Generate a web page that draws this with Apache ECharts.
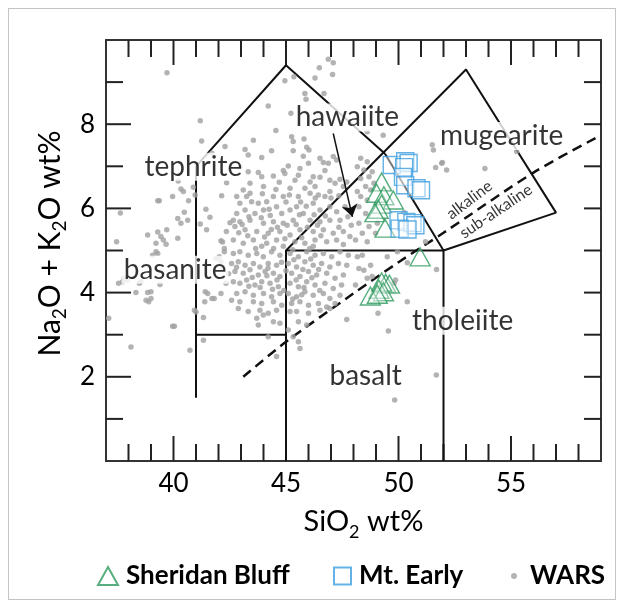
<!DOCTYPE html>
<html>
<head>
<meta charset="utf-8">
<script src="https://cdn.jsdelivr.net/npm/echarts@6.0.0/dist/echarts.min.js"></script>
<style>
  html, body { margin: 0; padding: 0; background: #fff; }
  #wrap { position: relative; width: 622px; height: 606px; }
  #chart { width: 622px; height: 606px; }
  #frame { position: absolute; left: 8px; top: 8px; width: 606px; height: 590px;
           border: 1.5px solid #c4c4c4; pointer-events: none; }
</style>
</head>
<body>
<div id="wrap"><div id="chart"></div><div id="frame"></div></div>
<script>
// tick labels and tick positions
const xMajorTicks = [40, 45, 50, 55];
const xMinorTicks = [38, 39, 41, 42, 43, 44, 46, 47, 48, 49, 51, 52, 53, 54, 56, 57, 58];
const yMajorTicks = [2, 4, 6, 8];
const yMinorTicks = [1, 3, 5, 7, 9];
const yRightTicks = [1, 2, 3, 4, 5, 6, 7, 8, 9];

// Sheridan Bluff samples (SiO2, Na2O+K2O)
const sheridanBluff = [
  [49.25, 6.63], [49.03, 6.36], [49.35, 6.3], [49.77, 6.2], [49.25, 6.1], [49.1, 5.98],
  [48.95, 5.9], [49.4, 5.53], [50.96, 4.85], [49.43, 4.22], [49.6, 4.2], [49.25, 4.25],
  [49.13, 4.08], [49.33, 4.02], [48.75, 3.92], [49.06, 3.96]
];

// Mt. Early samples
const mtEarly = [
  [49.7, 7.03], [50.3, 7.12], [50.45, 7.08], [50.25, 6.98], [50.2, 6.75], [50.3, 6.55],
  [50.8, 6.48], [51.0, 6.43], [50.0, 5.72], [50.35, 5.68], [50.62, 5.65], [50.75, 5.6],
  [50.05, 5.52], [50.4, 5.5]
];

// WARS compilation
const wars = [
  [39.71,9.22],[41.19,8.08],[41.25,7.6],[42.29,7.47],[41.71,7.31],[42.36,6.61],[40.21,6.65],[40.33,6.46],
  [40.44,6.4],[39.96,6.28],[40.88,6.5],[40.96,6.32],[42.14,6.3],[39.3,6.18],[39.37,6.18],[40.67,6.18],
  [37.64,5.89],[40.48,5.91],[41.44,5.98],[40.19,5.76],[40.63,5.72],[40.33,5.65],[41.62,5.79],[41.19,5.63],
  [41.47,5.49],[39.7,5.49],[39.3,5.44],[38.85,5.37],[39.44,5.33],[39.55,5.25],[39.22,5.17],[39.67,5.15],
  [40.19,5.29],[37.47,5.21],[42.11,5.23],[42.18,5.2],[42.26,5.05],[42.51,5.66],
  [39.07,4.89],[39.22,4.97],[39.3,4.93],[37.56,4.22],[37.74,4.26],[37.81,4.34],[37.96,4.3],[38.48,4.22],
  [38.55,4.26],[39.4,4.19],[38.33,4.0],[38.85,4.0],[39.0,4.02],[38.78,3.82],[38.9,3.78],[39.0,3.86],
  [37.12,3.39],[39.96,3.2],[40.04,3.2],[38.11,2.71],[40.73,2.63],[40.93,3.58],[41.0,3.54],[41.33,3.41],
  [41.33,2.87],[41.41,4.02],[41.39,3.78],[41.71,3.86],[41.81,3.86],[42.11,3.98],[41.52,3.98],[42.33,4.22],
  [42.04,4.85],[42.11,4.73],[42.26,4.97],[41.89,4.81],
  [46.88,9.54],[47.1,9.46],[46.48,9.34],[47.07,9.18],[46.29,9.1],[45.35,9.13],[44.95,9.03],[45.84,8.73],
  [46.69,8.73],[45.89,8.59],[44.21,8.43],[45.22,8.26],[44.55,7.85],[43.55,7.62],[45.25,7.7],[45.8,7.65],
  [45.32,7.59],[45.92,7.45],[46.02,7.39],[44.36,7.37],[43.18,7.4],[45.77,7.24],[45.32,7.37],[43.32,7.27],
  [43.92,7.21],[46.51,7.19],[46.66,7.09],[46.88,7.07],[47.1,7.23],[47.25,7.15],[46.0,7.07],[45.1,7.01],
  [44.88,6.9],[44.44,6.77],[44.95,6.83],[45.55,6.79],[45.62,6.95],[43.32,6.87],[42.95,6.99],[43.77,6.85],
  [43.92,6.75],[46.21,6.75],[46.51,6.74],[46.73,6.9],[46.07,6.63],[46.29,6.52],[46.95,6.67],[47.18,6.6],
  [47.4,6.69],[47.7,6.63],[47.55,6.52],[45.4,6.67],[45.18,6.48],[45.84,6.48],[44.88,6.28],[45.15,6.32],
  [45.55,6.28],[46.07,6.36],[46.44,6.32],[46.73,6.28],[46.95,6.4],[44.0,6.52],[43.4,6.6],[43.4,6.36],
  [43.1,6.44],[42.81,6.28],[43.25,6.28],[42.95,6.12],[43.47,6.16],[43.77,6.12],[44.14,6.16],[44.44,6.28],
  [42.81,5.88],[43.18,5.96],[43.62,5.88],[44.0,5.96],[44.58,6.04],[44.81,5.88],[45.18,5.96],[45.47,6.04],
  [45.77,5.88],[46.21,6.12],[46.51,5.96],[46.95,6.04],[47.25,5.92],[47.62,6.04],[47.4,5.72],[46.95,5.72],
  [46.51,5.68],[46.07,5.72],[45.32,5.72],[44.88,5.65],[44.44,5.68],[44.0,5.65],[43.4,5.72],[42.95,5.68],
  [42.66,5.72],[42.73,5.57],[43.18,5.49],[43.7,5.45],[44.21,5.41],[44.73,5.45],[45.18,5.37],[45.62,5.49],
  [46.21,5.45],[46.66,5.49],[47.1,5.41],[47.55,5.45],[47.84,5.33],[47.25,5.25],[46.81,5.21],[46.29,5.25],
  [45.84,5.17],[45.4,5.21],[44.58,5.25],[44.14,5.17],[43.55,5.25],[43.1,5.17],[42.66,5.25],[43.92,5.1],
  [44.88,5.1],[46.21,5.1],[47.55,5.14],
  [48.61,7.82],[49.32,7.74],[51.5,7.51],[51.55,7.39],[51.95,7.09],[51.65,6.97],[48.32,7.19],[48.61,7.11],
  [48.17,6.99],[48.46,6.91],[48.83,6.87],[48.69,6.75],[48.32,6.71],[48.91,6.6],[48.54,6.52],[48.17,6.4],
  [48.76,6.44],[48.32,6.28],[48.61,6.2],[48.24,6.04],[48.54,5.88],[48.24,5.65],[48.69,5.57],[49.06,5.65],
  [48.39,5.41],[48.98,5.41],[48.09,5.25],[48.61,5.21],[50.24,5.9],[51.2,5.21],
  [51.92,7.07],[52.14,6.91],[53.84,6.95],[55.25,7.35],
  [42.66,4.93],[42.95,4.97],[43.32,4.89],[43.7,4.93],[43.99,4.85],[44.36,4.97],[44.73,4.89],
  [42.58,4.69],[42.88,4.73],[43.18,4.65],[43.55,4.69],[43.84,4.61],[44.21,4.69],[44.58,4.65],
  [42.73,4.5],[43.1,4.46],[43.4,4.54],[43.77,4.42],[44.07,4.5],[44.44,4.46],[44.73,4.38],
  [42.66,4.26],[42.95,4.22],[43.25,4.3],[43.62,4.18],[43.92,4.26],[44.29,4.22],[44.66,4.14],
  [42.81,3.98],[43.18,4.02],[43.55,3.94],[44.0,3.98],[44.36,3.9],[44.73,3.98],
  [42.58,3.82],[42.95,3.78],[43.55,3.78],[43.92,3.74],[44.44,3.78],[44.81,3.7],
  [42.88,3.62],[43.32,3.55],[43.84,3.58],[44.21,3.51],[44.58,3.58],
  [43.7,3.39],[43.99,3.47],[44.44,3.31],[44.73,3.27],[43.77,3.23],[44.21,2.95],[44.58,2.48],
  [45.18,4.93],[45.55,4.85],[45.92,4.97],[46.29,4.89],[46.66,4.93],[47.03,4.85],[47.4,4.97],[47.77,4.89],
  [45.1,4.69],[45.47,4.61],[45.84,4.73],[46.21,4.65],[46.58,4.69],[46.95,4.61],[47.33,4.69],[47.7,4.65],
  [45.25,4.46],[45.62,4.38],[46.0,4.5],[46.36,4.42],[46.81,4.46],[47.18,4.34],[47.55,4.42],
  [45.18,4.22],[45.55,4.14],[45.92,4.26],[46.29,4.18],[46.73,4.22],[47.1,4.1],[47.47,4.18],
  [45.1,3.98],[45.47,3.9],[45.84,4.02],[46.21,3.94],[46.66,3.98],[46.95,3.86],[47.4,3.94],
  [45.25,3.74],[45.62,3.78],[46.0,3.7],[46.44,3.74],[46.81,3.66],[47.18,3.74],
  [45.18,3.55],[45.47,3.55],[46.0,3.51],[46.51,3.58],[46.95,3.62],
  [45.55,3.31],[45.92,3.23],[45.1,3.11],[45.32,2.95],[45.55,2.83],[45.62,2.67],[47.7,3.36],
  [48.39,4.89],[48.17,4.85],[48.76,4.65],[48.24,4.57],[48.46,4.53],[48.09,4.18],[48.61,4.34],[48.83,4.38],
  [49.5,4.85],[49.95,4.97],[49.8,4.22],[49.87,4.3],[50.39,4.71],[51.69,4.55],[50.39,3.78],[49.09,3.51],
  [49.55,3.09],[51.68,2.04],[49.83,1.45],
  [43.35,5.8],[43.9,5.78],[44.3,5.83],[44.62,5.55],[45.05,5.6],[45.45,5.62],[45.95,5.55],[46.4,5.6],
  [46.75,5.82],[44.05,5.32],[44.45,5.05],[44.95,5.28],[45.3,5.02],[45.7,5.3],[46.05,5.05],[46.55,5.35],
  [43.65,5.05],[43.3,5.35],[42.9,5.42],[44.8,4.72],[45.35,4.78],[45.75,4.55],[46.1,4.8],[46.45,4.55],
  [44.2,4.58],[44.6,4.3],[45.0,4.52],[45.45,4.3],[45.8,4.12],[46.15,4.35],[43.5,4.36],[43.85,4.12],
  [44.15,4.4],[44.9,4.05],[45.3,3.85],[45.7,3.95],[46.5,4.05],[44.4,4.08],[43.35,4.15],[42.8,4.6],
  [44.55,6.45],[45.0,6.15],[45.65,6.15],[46.3,6.25],[44.25,5.98],[45.6,5.85],[46.25,5.85],[43.95,6.35],
  [44.7,6.62],[45.9,6.05],[47.35,6.3],[47.0,6.25],[47.75,5.8],[47.35,5.55],[47.9,5.6],[42.45,4.45],
  [42.35,5.45],[42.2,4.6],[43.05,5.62],[44.35,5.5]
];

// TAS field boundaries
const fieldBoundaries = [
  [[41, 1.5], [41, 7]],
  [[41, 3], [45, 3]],
  [[41, 7], [45, 9.4], [49.4, 7.3]],
  [[45, 0], [45, 5], [52, 5], [52, 0]],
  [[45, 5], [53, 9.3], [57, 5.9], [52, 5]],
  [[49.4, 7.3], [52, 5]]
];
// alkaline / sub-alkaline divide
const alkalineDivide = [[43.1, 2.0], [45, 2.83], [48, 3.98], [50, 4.72], [52, 5.42], [56, 6.85], [59, 7.74]];
const arrowLine = [[47.1, 7.78], [47.95, 5.8]];

const fieldNames = ['tephrite', 'basanite', 'hawaiite', 'mugearite', 'tholeiite', 'basalt'];
const fieldNamePos = [[40.88, 6.99], [40.07, 4.54], [47.73, 8.16], [54.58, 7.72], [52.85, 3.33], [48.54, 2.03]];

const X_MIN = 37, X_MAX = 59, Y_MIN = 0, Y_MAX = 10;
const GRID = { left: 106, right: 21, top: 40, bottom: 145 };
const W = 622, H = 606;
// data units per pixel inside the plot area
const UX = (X_MAX - X_MIN) / (W - GRID.left - GRID.right);
const UY = (Y_MAX - Y_MIN) / (H - GRID.top - GRID.bottom);

const chart = echarts.init(document.getElementById('chart'));

const FONT = 'Lato';
const INK = '#000';
const frameLine = { show: true, onZero: false, lineStyle: { color: '#333', width: 2 } };

// inward tick marks as short line segments on the axis scale
function tickSeries(values, side, lenPx) {
  return values.map(v => {
    let seg;
    if (side === 'bottom') seg = [[v, Y_MIN], [v, Y_MIN + lenPx * UY]];
    else if (side === 'top') seg = [[v, Y_MAX], [v, Y_MAX - lenPx * UY]];
    else if (side === 'left') seg = [[X_MIN, v], [X_MIN + lenPx * UX, v]];
    else seg = [[X_MAX, v], [X_MAX - lenPx * UX, v]];
    return {
      type: 'line', symbol: 'none', silent: true, z: 1, clip: false,
      lineStyle: { color: '#222', width: 2 },
      data: seg
    };
  });
}

const nameRich = {
  a: { fontSize: 29, fontFamily: FONT, color: INK, lineHeight: 38 },
  s: { fontSize: 18, fontFamily: FONT, color: INK, verticalAlign: 'bottom' }
};
const yNameRich = {
  a: { fontSize: 30, fontFamily: FONT, color: INK, lineHeight: 38 },
  s: { fontSize: 19, fontFamily: FONT, color: INK, verticalAlign: 'bottom' }
};
const legendText = { fontSize: 26, fontWeight: 'bold', fontFamily: FONT, color: INK, padding: [0, 0, 0, 3] };

const boundarySeries = fieldBoundaries.map((c, i) => ({
  name: 'field' + i, type: 'line', symbol: 'none', silent: true, z: 2,
  lineStyle: { color: '#111', width: 2 },
  data: c
}));

const ticks = [].concat(
  tickSeries(xMinorTicks, 'bottom', 17),
  tickSeries(xMajorTicks, 'bottom', 25),
  tickSeries(xMinorTicks, 'top', 17),
  tickSeries(xMajorTicks, 'top', 25),
  tickSeries(yMinorTicks, 'left', 17),
  tickSeries(yMajorTicks, 'left', 25),
  tickSeries(yRightTicks, 'right', 17)
);

const option = {
  animation: false,
  backgroundColor: '#fff',
  grid: GRID,
  xAxis: [
    { type: 'value', min: X_MIN, max: X_MAX, position: 'bottom', axisLine: frameLine, splitLine: { show: false },
      axisTick: { show: false },
      axisLabel: { show: true, customValues: xMajorTicks, margin: 10, fontSize: 26, fontFamily: FONT, color: INK },
      name: '{a|SiO}{s|2}{a| wt%}', nameLocation: 'middle', nameGap: 42,
      nameTextStyle: { rich: nameRich, padding: [0, 0, 0, 20] } },
    { type: 'value', min: X_MIN, max: X_MAX, position: 'top', axisLine: frameLine, splitLine: { show: false },
      axisTick: { show: false }, axisLabel: { show: false } }
  ],
  yAxis: [
    { type: 'value', min: Y_MIN, max: Y_MAX, position: 'left', axisLine: frameLine, splitLine: { show: false },
      axisTick: { show: false },
      axisLabel: { show: true, customValues: yMajorTicks, margin: 11, fontSize: 26, fontFamily: FONT, color: INK },
      name: '{a|Na}{s|2}{a|O + K}{s|2}{a|O wt%}', nameLocation: 'middle', nameGap: 33, nameRotate: 90,
      nameTextStyle: { rich: yNameRich, padding: [0, 0, 0, 14] } },
    { type: 'value', min: Y_MIN, max: Y_MAX, position: 'right', axisLine: frameLine, splitLine: { show: false },
      axisTick: { show: false }, axisLabel: { show: false } }
  ],
  legend: [
    { data: ['Sheridan Bluff'], left: 92, top: 558, itemWidth: 20, itemHeight: 18, selectedMode: false, textStyle: legendText },
    { data: ['Mt. Early'], left: 328, top: 558, itemWidth: 17, itemHeight: 17, selectedMode: false, textStyle: legendText },
    { data: ['WARS'], left: 506, top: 558, itemWidth: 6, itemHeight: 6, selectedMode: false,
      textStyle: Object.assign({}, legendText, { padding: [0, 0, 0, 8] }) }
  ],
  series: ticks.concat(boundarySeries, [
    {
      name: 'divide', type: 'line', smooth: 0.3, symbol: 'none', silent: true, z: 2,
      lineStyle: { color: '#111', width: 2.5, type: [10, 6] },
      data: alkalineDivide,
      markLine: {
        silent: true, symbol: ['none', 'arrow'], symbolSize: 12, animation: false,
        label: { show: false },
        lineStyle: { type: 'solid', color: '#111', width: 1.5 },
        data: [[{ coord: arrowLine[0] }, { coord: arrowLine[1] }]]
      }
    },
    {
      name: 'WARS', type: 'scatter', symbol: 'circle', symbolSize: 5.5, z: 3,
      itemStyle: { color: '#a0a0a0' },
      data: wars
    },
    {
      name: 'fieldNames', type: 'scatter', symbolSize: 0, silent: true, z: 5,
      label: {
        show: true, position: 'inside', formatter: '{b}', fontSize: 28, lineHeight: 28,
        fontFamily: FONT, color: INK, backgroundColor: '#fff', padding: [0, 2]
      },
      data: fieldNames.map((n, i) => ({ name: n, value: fieldNamePos[i] })).concat([
        { name: 'alkaline', value: [53.15, 6.2],
          label: { fontSize: 16, lineHeight: 16, rotate: 37, backgroundColor: 'transparent' } },
        { name: 'sub-alkaline', value: [54.33, 5.93],
          label: { fontSize: 16, lineHeight: 16, rotate: 34, backgroundColor: 'transparent' } }
      ])
    },
    {
      name: 'Sheridan Bluff', type: 'scatter', symbol: 'triangle', symbolSize: [20, 18], z: 7,
      itemStyle: { color: 'rgba(255,255,255,0.45)', borderColor: '#2e9a5e', borderWidth: 1.4 },
      data: sheridanBluff
    },
    {
      name: 'Mt. Early', type: 'scatter', symbol: 'rect', symbolSize: 17, z: 8,
      itemStyle: { color: 'rgba(255,255,255,0.55)', borderColor: '#3d9ee0', borderWidth: 1.4 },
      data: mtEarly
    }
  ])
};

chart.setOption(option);
</script>
</body>
</html>
